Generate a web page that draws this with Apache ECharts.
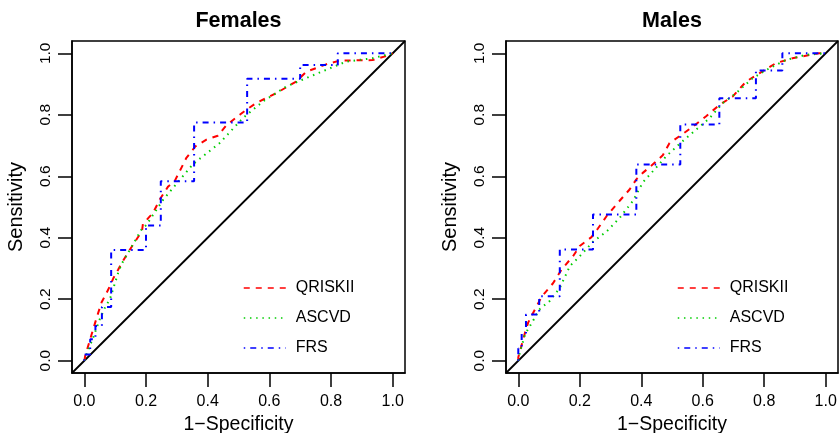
<!DOCTYPE html>
<html>
<head>
<meta charset="utf-8">
<script src="https://cdn.jsdelivr.net/npm/echarts@6/dist/echarts.min.js"></script>
<style>
    html, body { margin: 0; padding: 0; background: #fff; }
    #rocChart { width: 839px; height: 433px; }
</style>
</head>
<body>
<div id="rocChart"></div>
<script>
//坐标轴范围和刻度
var axisMin = -0.04, axisMax = 1.04;
var tickValues = [0, 0.2, 0.4, 0.6, 0.8, 1.0];
var panelTitles = ['Females', 'Males'];
var modelNames = ['QRISKII', 'ASCVD', 'FRS'];
var diagLine = [[axisMin, axisMin], [axisMax, axisMax]];

//Females
var femQriskX = [0, 0.003, 0.019, 0.04, 0.056, 0.07, 0.083, 0.095, 0.11, 0.122, 0.148, 0.154, 0.187, 0.19, 0.223, 0.245, 0.272, 0.293, 0.32, 0.331, 0.36, 0.396, 0.433, 0.46, 0.504, 0.525, 0.557, 0.611, 0.622, 0.687, 0.72, 0.784, 0.827, 0.935, 0.989, 1];
var femQriskY = [0, 0.016, 0.07, 0.14, 0.19, 0.216, 0.243, 0.27, 0.297, 0.319, 0.362, 0.368, 0.422, 0.445, 0.481, 0.525, 0.567, 0.584, 0.638, 0.66, 0.697, 0.719, 0.732, 0.765, 0.8, 0.816, 0.838, 0.865, 0.87, 0.908, 0.94, 0.964, 0.976, 0.978, 0.994, 1];
var femAscvdX = [0, 0.018, 0.025, 0.05, 0.068, 0.083, 0.111, 0.121, 0.153, 0.19, 0.2, 0.256, 0.353, 0.439, 0.514, 0.579, 0.655, 0.719, 0.784, 0.849, 0.935, 1];
var femAscvdY = [0, 0.05, 0.065, 0.135, 0.175, 0.2, 0.29, 0.315, 0.37, 0.435, 0.44, 0.524, 0.64, 0.708, 0.789, 0.843, 0.892, 0.919, 0.946, 0.973, 0.984, 1];
var femFrsX = [0, 0, 0.019, 0.036, 0.057, 0.087, 0.2, 0.248, 0.356, 0.528, 0.7, 0.822, 1];
var femFrsY = [0, 0.02, 0.07, 0.113, 0.175, 0.36, 0.44, 0.584, 0.775, 0.917, 0.962, 1, 1];

//Males
var maleQriskX = [0, 0, 0.016, 0.022, 0.032, 0.049, 0.06, 0.076, 0.113, 0.141, 0.178, 0.2, 0.238, 0.259, 0.287, 0.319, 0.362, 0.384, 0.405, 0.437, 0.47, 0.492, 0.524, 0.562, 0.611, 0.654, 0.697, 0.741, 0.784, 0.838, 0.892, 0.978, 1];
var maleQriskY = [0, 0.011, 0.07, 0.092, 0.124, 0.157, 0.178, 0.208, 0.252, 0.297, 0.34, 0.373, 0.402, 0.43, 0.47, 0.508, 0.557, 0.59, 0.611, 0.638, 0.668, 0.708, 0.73, 0.757, 0.795, 0.832, 0.859, 0.908, 0.935, 0.968, 0.984, 1, 1];
var maleAscvdX = [0, 0.005, 0.022, 0.038, 0.06, 0.07, 0.103, 0.135, 0.168, 0.2, 0.243, 0.287, 0.33, 0.373, 0.405, 0.459, 0.481, 0.524, 0.578, 0.622, 0.665, 0.708, 0.762, 0.816, 0.87, 0.935, 1];
var maleAscvdY = [0, 0.027, 0.086, 0.113, 0.151, 0.168, 0.195, 0.237, 0.308, 0.34, 0.387, 0.42, 0.465, 0.52, 0.58, 0.64, 0.665, 0.705, 0.751, 0.789, 0.838, 0.87, 0.919, 0.951, 0.978, 0.995, 1];
var maleFrsX = [0, 0, 0.011, 0.025, 0.068, 0.135, 0.243, 0.384, 0.527, 0.654, 0.773, 0.859, 1];
var maleFrsY = [0, 0.04, 0.09, 0.15, 0.21, 0.362, 0.476, 0.638, 0.768, 0.854, 0.944, 1, 1];

var fontName = "'Liberation Sans', Arial, sans-serif";
var lineColors = ['#FF0000', '#00CD00', '#0000FF'];
var lineTypes = [[6, 6], [1.5, 4.7], [1.5, 5, 6, 5]];

function zipXY(xs, ys) {
    return xs.map(function (x, i) { return [x, ys[i]]; });
}

function makeXAxis(idx) {
    return {
        gridIndex: idx,
        type: 'value',
        min: axisMin,
        max: axisMax,
        name: '1\u2212Specificity',
        nameLocation: 'middle',
        nameGap: 42,
        nameTextStyle: { color: '#000', fontSize: 19.5, fontFamily: fontName },
        axisLine: { show: true, onZero: false, lineStyle: { color: '#000', width: 1.5 } },
        axisTick: { show: true, inside: false, length: 14, customValues: tickValues, lineStyle: { color: '#000', width: 1.5 } },
        axisLabel: {
            customValues: tickValues,
            margin: 21,
            color: '#000',
            fontSize: 16,
            fontFamily: fontName,
            formatter: function (v) { return v.toFixed(1); }
        },
        splitLine: { show: false }
    };
}

function makeYAxis(idx) {
    return {
        gridIndex: idx,
        type: 'value',
        min: axisMin,
        max: axisMax,
        name: 'Sensitivity',
        nameLocation: 'middle',
        nameGap: 46,
        nameTextStyle: { color: '#000', fontSize: 20, fontFamily: fontName },
        axisLine: { show: true, onZero: false, lineStyle: { color: '#000', width: 1.5 } },
        axisTick: { show: true, inside: false, length: 14, customValues: tickValues, lineStyle: { color: '#000', width: 1.5 } },
        axisLabel: {
            customValues: tickValues,
            rotate: 90,
            margin: 18,
            color: '#000',
            fontSize: 15.5,
            fontFamily: fontName,
            formatter: function (v) { return v.toFixed(1); }
        },
        splitLine: { show: false }
    };
}

function rocSeries(name, idx, k, data) {
    return {
        name: name,
        type: 'line',
        xAxisIndex: idx,
        yAxisIndex: idx,
        data: data,
        step: k === 2 ? 'end' : false,
        symbol: 'none',
        showSymbol: false,
        silent: true,
        lineStyle: { color: lineColors[k], width: 2, type: lineTypes[k] },
        itemStyle: { color: lineColors[k] },
        z: 3
    };
}

function diagSeries(idx) {
    return {
        type: 'line',
        xAxisIndex: idx,
        yAxisIndex: idx,
        data: diagLine,
        symbol: 'none',
        silent: true,
        lineStyle: { color: '#000', width: 1.8 },
        z: 2
    };
}

var panelData = [
    [zipXY(femQriskX, femQriskY), zipXY(femAscvdX, femAscvdY), zipXY(femFrsX, femFrsY)],
    [zipXY(maleQriskX, maleQriskY), zipXY(maleAscvdX, maleAscvdY), zipXY(maleFrsX, maleFrsY)]
];

var series = [];
panelData.forEach(function (curves, idx) {
    series.push(diagSeries(idx));
    curves.forEach(function (d, k) {
        series.push(rocSeries(modelNames[k], idx, k, d));
    });
});

var legendBase = {
    orient: 'vertical',
    top: 280,
    itemWidth: 42,
    itemHeight: 14,
    itemGap: 14,
    padding: 0,
    selectedMode: false,
    data: modelNames,
    itemStyle: { opacity: 0 },
    lineStyle: { width: 1.5 },
    textStyle: { color: '#000', fontSize: 16, fontFamily: fontName, padding: [0, 0, 0, 5] }
};

var rocChart = echarts.init(document.getElementById('rocChart'));
var rocOption = {
    animation: false,
    backgroundColor: '#fff',
    title: [
        { text: panelTitles[0], left: 238.5, textAlign: 'center', top: 10, padding: 0,
          textStyle: { color: '#000', fontSize: 21.5, fontWeight: 'bold', fontFamily: fontName } },
        { text: panelTitles[1], left: 672, textAlign: 'center', top: 10, padding: 0,
          textStyle: { color: '#000', fontSize: 21.5, fontWeight: 'bold', fontFamily: fontName } }
    ],
    legend: [
        Object.assign({}, legendBase, { left: 243 }),
        Object.assign({}, legendBase, { left: 677 })
    ],
    grid: [
        { left: 72, top: 41, width: 333, height: 332, show: true, borderColor: '#000', borderWidth: 1.5,
          containLabel: false, outerBoundsMode: 'none' },
        { left: 506, top: 41, width: 332, height: 332, show: true, borderColor: '#000', borderWidth: 1.5,
          containLabel: false, outerBoundsMode: 'none' }
    ],
    xAxis: [makeXAxis(0), makeXAxis(1)],
    yAxis: [makeYAxis(0), makeYAxis(1)],
    series: series
};
rocChart.setOption(rocOption);
</script>
</body>
</html>
